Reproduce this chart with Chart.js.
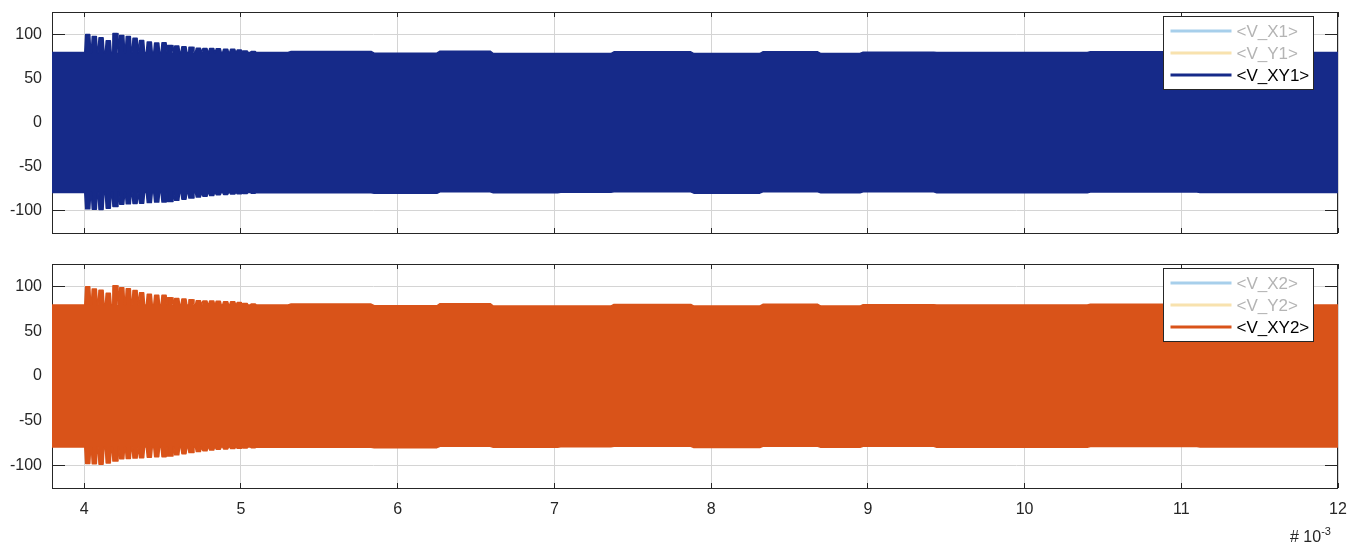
<!DOCTYPE html>
<html>
<head>
<meta charset="utf-8">
<title>V_XY1 / V_XY2</title>
<script src="https://cdn.jsdelivr.net/npm/chart.js@4.4.1/dist/chart.umd.min.js"></script>
<style>
    html, body { margin: 0; padding: 0; background: #fff; }
    body { width: 1359px; height: 546px; position: relative; overflow: hidden; font-family: 'Liberation Sans', Arial, sans-serif; }
    .panel { position: absolute; left: 0; width: 1359px; }
    #top-panel { top: 0; height: 246px; }
    #bottom-panel { top: 252px; height: 294px; }
    #exponent { position: absolute; left: 1290px; top: 529px; font-size: 16px; line-height: 16px; color: #262626; white-space: nowrap; }
    #exponent span { position: relative; top: -7px; font-size: 11px; }
</style>
</head>
<body>
<div class="panel" id="top-panel"><canvas id="chartTop" width="1359" height="246"></canvas></div>
<div class="panel" id="bottom-panel"><canvas id="chartBottom" width="1359" height="294"></canvas></div>
<div id="exponent"># 10<span>-3</span></div>
<script>
// time axis in units of 1e-3 s
const xTicks = [4, 5, 6, 7, 8, 9, 10, 11, 12];
const yTicks = [-100, -50, 0, 50, 100];
const X_MIN = 3.794, X_MAX = 12;
const Y_MIN = -125, Y_MAX = 125;

// steady amplitude before the transient
const baseUpper = 79.2;
const baseLower = -79.2;

// transient peaks
const spikeTimes = [4.022, 4.064, 4.107, 4.153, 4.196, 4.239, 4.281, 4.324, 4.366, 4.415, 4.462, 4.509, 4.547,
    4.590, 4.636, 4.681, 4.728, 4.770, 4.813, 4.855, 4.902, 4.947, 4.989, 5.026, 5.078];
const spikeUpper = [99.5, 97.2, 95.8, 92.4, 100.8, 98.5, 97.3, 95.3, 92.8, 91.2, 90, 90.2, 87.2,
    86.5, 85.8, 85.2, 84, 83.6, 83.8, 83.5, 83, 82.8, 82, 81, 80.3];
const spikeLower = [-97.7, -98, -98.5, -97, -95, -92.4, -92, -91.6, -91.3, -90.6, -90, -90, -89.4,
    -88, -86.7, -85.5, -84.4, -83.5, -82.5, -81.8, -81.5, -81, -80.7, -80.4, -80];

// envelope after the transient
const envTimes = [5.10, 5.30, 5.32, 5.83, 5.85, 6.25, 6.27, 6.59, 6.61, 7.02, 7.04, 7.36, 7.38, 7.87,
    7.89, 8.31, 8.33, 8.68, 8.70, 8.95, 8.97, 9.42, 9.44, 10.40, 10.42, 11.10, 11.12, 12.00];
const envUpper = [79.2, 79.2, 80.3, 80.3, 78.4, 78.4, 80.7, 80.7, 78.0, 78.0, 78.0, 78.0, 79.9, 79.9,
    78.0, 78.0, 80.0, 80.0, 78.0, 78.0, 79.5, 79.5, 79.2, 79.2, 80.0, 80.0, 79.2, 79.2];
const envLower = [-79.5, -79.5, -79.5, -79.5, -80, -80, -78.4, -78.4, -79.5, -79.5, -79, -79, -78.4, -78.4,
    -79.9, -79.9, -78.4, -78.4, -79.5, -79.5, -78.4, -78.4, -79.5, -79.5, -78.6, -78.6, -79.2, -79.2];

const FONT = "'Liberation Sans', Arial, sans-serif";
const TEXT = '#262626';
const GRID = '#d4d4d4';
const SPIKE_TOP = 0.013, SPIKE_BASE = 0.019;

function buildEnvelope(base, spikes, env) {
    const pts = [{ x: X_MIN, y: base }];
    spikeTimes.forEach((t, i) => {
        pts.push({ x: t - SPIKE_BASE, y: base });
        pts.push({ x: t - SPIKE_TOP, y: spikes[i] });
        pts.push({ x: t + SPIKE_TOP, y: spikes[i] });
        pts.push({ x: t + SPIKE_BASE, y: base });
    });
    envTimes.forEach((t, i) => pts.push({ x: t, y: env[i] }));
    return pts;
}

// box + inward ticks, drawn under the data like MATLAB's default layer
const axesBox = {
    id: 'axesBox',
    beforeDatasetsDraw(chart) {
        const { ctx, chartArea: a, scales } = chart;
        const px = v => Math.floor(v) + 0.5;
        ctx.save();
        ctx.strokeStyle = TEXT;
        ctx.lineWidth = 1;
        ctx.beginPath();
        xTicks.forEach(v => {
            const x = px(scales.x.getPixelForValue(v));
            ctx.moveTo(x, a.bottom); ctx.lineTo(x, a.bottom - 5);
            ctx.moveTo(x, a.top); ctx.lineTo(x, a.top + 5);
        });
        yTicks.forEach(v => {
            const y = px(scales.y.getPixelForValue(v));
            ctx.moveTo(a.left, y); ctx.lineTo(a.left + 13, y);
            ctx.moveTo(a.right, y); ctx.lineTo(a.right - 13, y);
        });
        ctx.stroke();
        ctx.strokeRect(px(a.left), px(a.top), Math.round(a.right - a.left) - 1, Math.round(a.bottom - a.top));
        ctx.restore();
    }
};

// boxed legend in the top-right corner of the axes
const boxedLegend = {
    id: 'boxedLegend',
    afterDraw(chart) {
        const { ctx, chartArea: a } = chart;
        const items = chart.data.datasets.filter(d => d.label);
        const w = 150, rowH = 22, padY = 3.5;
        const h = rowH * items.length + padY * 2;
        const left = Math.round(a.right - 25 - w) + 0.5;
        const top = Math.round(a.top + 4) + 0.5;
        ctx.save();
        ctx.fillStyle = '#fff';
        ctx.fillRect(left, top, w, h);
        ctx.strokeStyle = TEXT;
        ctx.lineWidth = 1;
        ctx.strokeRect(left, top, w, h);
        ctx.font = '17px ' + FONT;
        ctx.textBaseline = 'middle';
        items.forEach((d, i) => {
            const y = Math.round(top + padY + rowH * i + rowH / 2);
            ctx.strokeStyle = d.borderColor;
            ctx.lineWidth = 3;
            ctx.beginPath();
            ctx.moveTo(left + 7, y);
            ctx.lineTo(left + 68, y);
            ctx.stroke();
            ctx.fillStyle = d.hidden ? '#b4b4b4' : '#000';
            ctx.fillText(d.label, left + 73, y + 1);
        });
        ctx.restore();
    }
};

function makeChart(canvasId, color, names, showXLabels, padding) {
    const upper = buildEnvelope(baseUpper, spikeUpper, envUpper);
    const lower = buildEnvelope(baseLower, spikeLower, envLower);

    return new Chart(document.getElementById(canvasId), {
        type: 'line',
        data: {
            datasets: [
                { label: names[0], data: [], hidden: true, borderColor: '#a7cfeb' },
                { label: names[1], data: [], hidden: true, borderColor: '#f8e2ae' },
                { label: names[2], data: upper, borderColor: color, backgroundColor: color, borderWidth: 1.5, fill: false },
                { label: '', data: lower, borderColor: color, backgroundColor: color, borderWidth: 1.5, fill: '-1' }
            ]
        },
        options: {
            responsive: false,
            animation: false,
            events: [],
            layout: { padding: padding },
            elements: { point: { radius: 0 }, line: { tension: 0, borderJoinStyle: 'round' } },
            plugins: { legend: { display: false }, tooltip: { enabled: false } },
            scales: {
                x: {
                    type: 'linear', min: X_MIN, max: X_MAX,
                    afterBuildTicks: axis => { axis.ticks = xTicks.map(v => ({ value: v })); },
                    afterFit: axis => {
                        axis.height = showXLabels ? 30 : 0;
                        axis.paddingLeft = 0; axis.paddingRight = 0;
                    },
                    grid: { color: GRID, drawTicks: false },
                    border: { display: false },
                    ticks: { display: showXLabels, padding: 12, maxRotation: 0, color: TEXT, font: { family: FONT, size: 16 } }
                },
                y: {
                    type: 'linear', min: Y_MIN, max: Y_MAX,
                    afterBuildTicks: axis => { axis.ticks = yTicks.map(v => ({ value: v })); },
                    afterFit: axis => {
                        axis.width = 52;
                        axis.paddingTop = 0; axis.paddingBottom = 0;
                    },
                    grid: { color: GRID, drawTicks: false },
                    border: { display: false },
                    ticks: { padding: 10, color: TEXT, font: { family: FONT, size: 16 } }
                }
            }
        },
        plugins: [axesBox, boxedLegend]
    });
}

makeChart('chartTop', '#162a89', ['<V_X1>', '<V_Y1>', '<V_XY1>'], false, { top: 12, right: 21, bottom: 13, left: 0 });
makeChart('chartBottom', '#d95319', ['<V_X2>', '<V_Y2>', '<V_XY2>'], true, { top: 12, right: 21, bottom: 28, left: 0 });
</script>
</body>
</html>
